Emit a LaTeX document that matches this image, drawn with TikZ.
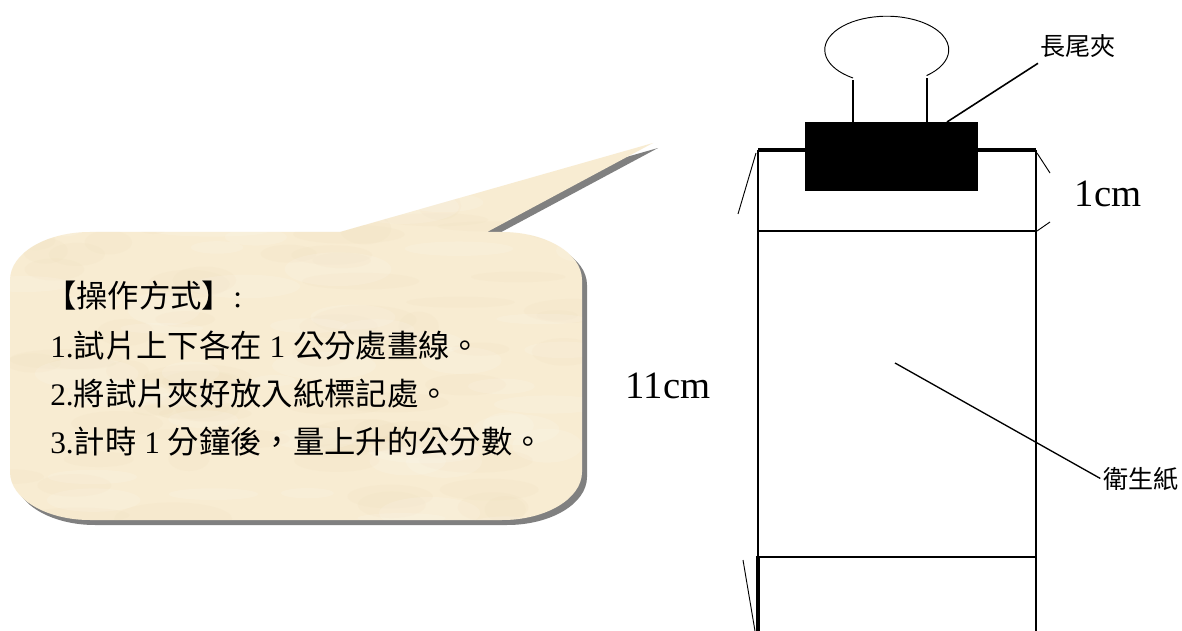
\documentclass[tikz,border=0pt]{standalone}
\usepackage{fontspec}
\setmainfont{Liberation Serif}
\newfontfamily\cjkfont{Noto Sans CJK TC}
\newcommand{\zh}[1]{{\cjkfont #1}}
\newcommand{\calloutpath}{(90,232) -- (340,232) -- (653,143) -- (487,232) -- (502,232)
  arc[start angle=270,end angle=360,x radius=80,y radius=48] -- (582,472)
  arc[start angle=0,end angle=90,x radius=80,y radius=48] -- (90,520)
  arc[start angle=90,end angle=180,x radius=80,y radius=48] -- (10,280)
  arc[start angle=180,end angle=270,x radius=80,y radius=48] -- cycle}
\definecolor{parchment}{RGB}{248,236,210}
\definecolor{parchdark}{RGB}{236,219,182}
\definecolor{calloutshadow}{RGB}{128,128,128}
\tikzset{
  paperedge/.style={line width=1.5pt},
  papertop/.style={line width=2.4pt},
  fineline/.style={line width=1.2pt},
  hairline/.style={line width=0.7pt},
  cmtext/.style={inner sep=0pt,anchor=base,font=\fontsize{29}{33}\selectfont},
  tagtext/.style={inner sep=0pt,font=\fontsize{18.8}{22}\selectfont\cjkfont},
  notetext/.style={inner sep=0pt,anchor=base west,font=\fontsize{23.5}{28}\selectfont},
}
\begin{document}
\begin{tikzpicture}[x=0.75pt,y=-0.75pt]
\useasboundingbox (0,0) rectangle (1182,631);
\fill[white] (0,0) rectangle (1182,631);

% speech bubble: hard shadow, parchment fill
\fill[calloutshadow] [shift={(5,5)}] \calloutpath;
\fill[parchment] \calloutpath;
\begin{scope}
  \clip \calloutpath;
  \pgfmathsetseed{11}
  \foreach \i in {1,...,90}{
    \pgfmathsetmacro\bx{10+580*rnd}
    \pgfmathsetmacro\by{140+385*rnd}
    \pgfmathsetmacro\rx{20+40*rnd}
    \pgfmathsetmacro\ry{5+12*rnd}
    \fill[parchdark,opacity=0.12] (\bx,\by) ellipse[x radius=\rx,y radius=\ry];
  }
  \foreach \i in {1,...,60}{
    \pgfmathsetmacro\bx{10+580*rnd}
    \pgfmathsetmacro\by{140+385*rnd}
    \pgfmathsetmacro\rx{20+40*rnd}
    \pgfmathsetmacro\ry{5+12*rnd}
    \fill[white,opacity=0.12] (\bx,\by) ellipse[x radius=\rx,y radius=\ry];
  }
\end{scope}

% instructions
\node[notetext] (head)  at (45,307) {\zh{【操作方式】}:};
\node[notetext] (step1) at (50,357) {1.\zh{試片上下各在} 1 \zh{公分處畫線。}};
\node[notetext] (step2) at (50,405) {2.\zh{將試片夾好放入紙標記處。}};
\node[notetext] (step3) at (50,453) {3.\zh{計時} 1 \zh{分鐘後，量上升的公分數。}};

% tissue paper strip
\draw[papertop] (758,150) -- (1036,150);
\draw[paperedge] (758,150) -- (758,556);
\draw[line width=2.6pt] (758,556) -- (758,631);
\draw[paperedge] (1036,150) -- (1036,631);
\draw[fineline] (758,231) -- (1036,231);
\draw[fineline] (758,557) -- (1036,557);

% small fold marks at the strip edges
\draw[hairline] (756,153) -- (738,214);
\draw[hairline] (1037,153) -- (1050,173);
\draw[hairline] (1037,231) -- (1050,222);
\draw[hairline] (743,560) -- (755,631);

% binder clip
\fill[black] (805,122) rectangle (978,191);
\draw[fineline] (853,122) -- (853,80);
\draw[fineline] (927,122) -- (927,78);
\draw[hairline] (853,78)
  arc[start angle=123,end angle=410,x radius=62,y radius=33.6];

% labels
\node[cmtext] (elevencm) at (668,398) {11cm};
\node[cmtext] (onecm) at (1108,207) {1cm};

\coordinate (clipgrip) at (947,122);
\node[tagtext,anchor=base west] (cliplabel) at (1040,56) {長尾夾};
\draw[fineline] (clipgrip) -- ([shift={(-2,5)}]cliplabel.south west);

\coordinate (tissuept) at (895,363);
\node[tagtext,anchor=base west] (tissuelabel) at (1103,488) {衛生紙};
\draw[line width=1pt] (tissuept) -- ([xshift=-2]tissuelabel.west);
\end{tikzpicture}
\end{document}
